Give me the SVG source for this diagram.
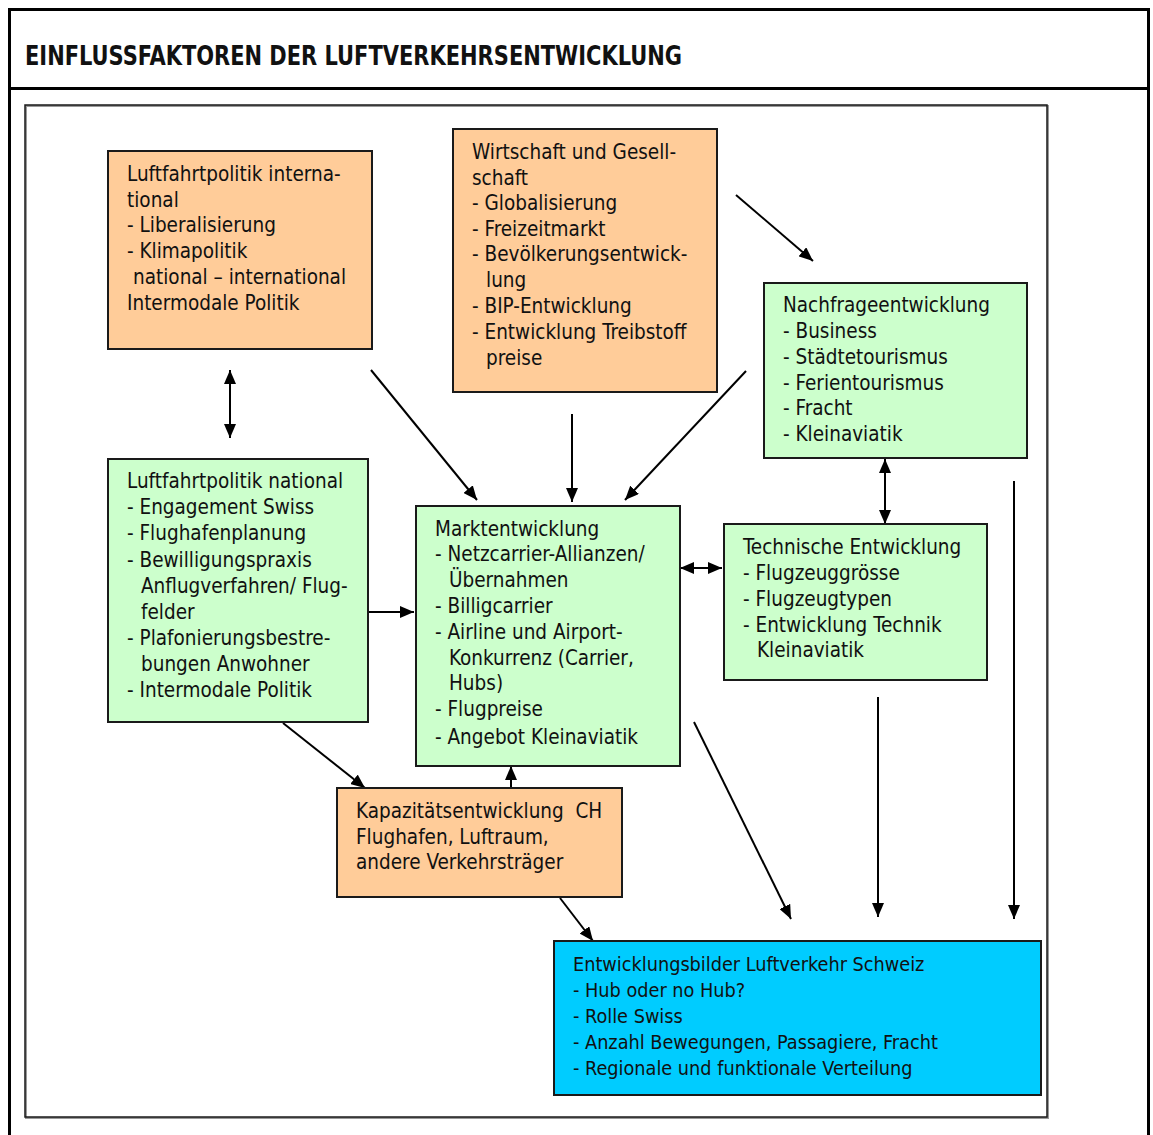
<svg xmlns="http://www.w3.org/2000/svg" width="1153" height="1135" viewBox="0 0 1153 1135">
<style>
.t{font-family:"DejaVu Sans Condensed","DejaVu Sans",sans-serif;font-stretch:condensed;font-size:20.5px;fill:#111}
.s{font-size:19.7px}
.h{font-family:"DejaVu Sans Condensed","DejaVu Sans",sans-serif;font-stretch:condensed;font-size:26px;font-weight:bold;fill:#111}
.or{fill:#FFCC99;stroke:#1a1a1a;stroke-width:2}
.gr{fill:#CCFFCC;stroke:#1a1a1a;stroke-width:2}
.bl{fill:#00CCFF;stroke:#1a1a1a;stroke-width:2}
.c line{stroke:#000;stroke-width:2}
</style>
<defs>
<marker id="a" viewBox="0 0 14 12" refX="14" refY="6" markerWidth="14" markerHeight="12" markerUnits="userSpaceOnUse" orient="auto-start-reverse"><path d="M0,0L14,6L0,12z" fill="#000"/></marker>
</defs>
<rect width="1153" height="1135" fill="#fff"/>
<g id="frame">
<path d="M9.5,1135V9.5H1148.5V1135" fill="none" stroke="#000" stroke-width="3"/>
<line x1="9" y1="88.5" x2="1149" y2="88.5" stroke="#000" stroke-width="3"/>
<text class="h" x="25" y="65" textLength="657" lengthAdjust="spacingAndGlyphs">EINFLUSSFAKTOREN DER LUFTVERKEHRSENTWICKLUNG</text>
<rect x="26" y="106" width="1022" height="1012" fill="none" stroke="#999" stroke-width="2"/>
<rect x="25" y="105" width="1022" height="1012" fill="none" stroke="#1a1a1a" stroke-width="1.5"/>
</g>
<g class="c" id="connectors">
<line x1="230" y1="370" x2="230" y2="438" marker-start="url(#a)" marker-end="url(#a)"/>
<line x1="371" y1="370" x2="477" y2="500" marker-end="url(#a)"/>
<line x1="572" y1="414" x2="572" y2="502" marker-end="url(#a)"/>
<line x1="746" y1="371" x2="625" y2="500" marker-end="url(#a)"/>
<line x1="736" y1="195" x2="813" y2="261" marker-end="url(#a)"/>
<line x1="885" y1="459" x2="885" y2="524" marker-start="url(#a)" marker-end="url(#a)"/>
<line x1="680" y1="568" x2="722" y2="568" marker-start="url(#a)" marker-end="url(#a)"/>
<line x1="369" y1="612" x2="414" y2="612" marker-end="url(#a)"/>
<line x1="283" y1="723" x2="365" y2="788" marker-end="url(#a)"/>
<line x1="511" y1="788" x2="511" y2="766" marker-end="url(#a)"/>
<line x1="560" y1="898" x2="593" y2="941" marker-end="url(#a)"/>
<line x1="694" y1="722" x2="791" y2="919" marker-end="url(#a)"/>
<line x1="878" y1="697" x2="878" y2="917" marker-end="url(#a)"/>
<line x1="1014" y1="481" x2="1014" y2="919" marker-end="url(#a)"/>
</g>
<g id="n1">
<rect class="or" x="108" y="151" width="264" height="198"/>
<text class="t"><tspan x="127" y="181">Luftfahrtpolitik interna-</tspan><tspan x="127" y="206.5">tional</tspan><tspan x="127" y="232">- Liberalisierung</tspan><tspan x="127" y="258">- Klimapolitik</tspan><tspan x="133" y="284">national – international</tspan><tspan x="127" y="309.5">Intermodale Politik</tspan></text>
</g>
<g id="n2">
<rect class="or" x="453" y="129" width="264" height="263"/>
<text class="t"><tspan x="472" y="159">Wirtschaft und Gesell-</tspan><tspan x="472" y="184.5">schaft</tspan><tspan x="472" y="210">- Globalisierung</tspan><tspan x="472" y="235.5">- Freizeitmarkt</tspan><tspan x="472" y="261">- Bevölkerungsentwick-</tspan><tspan x="486" y="287">lung</tspan><tspan x="472" y="313">- BIP-Entwicklung</tspan><tspan x="472" y="339">- Entwicklung Treibstoff</tspan><tspan x="486" y="365">preise</tspan></text>
</g>
<g id="n3">
<rect class="gr" x="764" y="283" width="263" height="175"/>
<text class="t"><tspan x="783" y="312">Nachfrageentwicklung</tspan><tspan x="783" y="338">- Business</tspan><tspan x="783" y="364">- Städtetourismus</tspan><tspan x="783" y="390">- Ferientourismus</tspan><tspan x="783" y="415">- Fracht</tspan><tspan x="783" y="441">- Kleinaviatik</tspan></text>
</g>
<g id="n4">
<rect class="gr" x="108" y="459" width="260" height="263"/>
<text class="t"><tspan x="127" y="488">Luftfahrtpolitik national</tspan><tspan x="127" y="514">- Engagement Swiss</tspan><tspan x="127" y="540">- Flughafenplanung</tspan><tspan x="127" y="567">- Bewilligungspraxis</tspan><tspan x="141" y="593">Anflugverfahren/ Flug-</tspan><tspan x="141" y="619">felder</tspan><tspan x="127" y="645">- Plafonierungsbestre-</tspan><tspan x="141" y="671">bungen Anwohner</tspan><tspan x="127" y="697">- Intermodale Politik</tspan></text>
</g>
<g id="n5">
<rect class="gr" x="416" y="506" width="264" height="260"/>
<text class="t"><tspan x="435" y="536">Marktentwicklung</tspan><tspan x="435" y="561">- Netzcarrier-Allianzen/</tspan><tspan x="449" y="587">Übernahmen</tspan><tspan x="435" y="613">- Billigcarrier</tspan><tspan x="435" y="639">- Airline und Airport-</tspan><tspan x="449" y="665">Konkurrenz (Carrier,</tspan><tspan x="449" y="690">Hubs)</tspan><tspan x="435" y="716">- Flugpreise</tspan><tspan x="435" y="744">- Angebot Kleinaviatik</tspan></text>
</g>
<g id="n6">
<rect class="gr" x="724" y="524" width="263" height="156"/>
<text class="t"><tspan x="743" y="554">Technische Entwicklung</tspan><tspan x="743" y="580">- Flugzeuggrösse</tspan><tspan x="743" y="606">- Flugzeugtypen</tspan><tspan x="743" y="632">- Entwicklung Technik</tspan><tspan x="757" y="657">Kleinaviatik</tspan></text>
</g>
<g id="n7">
<rect class="or" x="337" y="788" width="285" height="109"/>
<text class="t" xml:space="preserve"><tspan x="356" y="818">Kapazitätsentwicklung  CH</tspan><tspan x="356" y="844">Flughafen, Luftraum,</tspan><tspan x="356" y="869">andere Verkehrsträger</tspan></text>
</g>
<g id="n8">
<rect class="bl" x="554" y="941" width="487" height="154"/>
<text class="t s"><tspan x="573" y="971">Entwicklungsbilder Luftverkehr Schweiz</tspan><tspan x="573" y="997">- Hub oder no Hub?</tspan><tspan x="573" y="1023">- Rolle Swiss</tspan><tspan x="573" y="1049">- Anzahl Bewegungen, Passagiere, Fracht</tspan><tspan x="573" y="1075">- Regionale und funktionale Verteilung</tspan></text>
</g>
</svg>
